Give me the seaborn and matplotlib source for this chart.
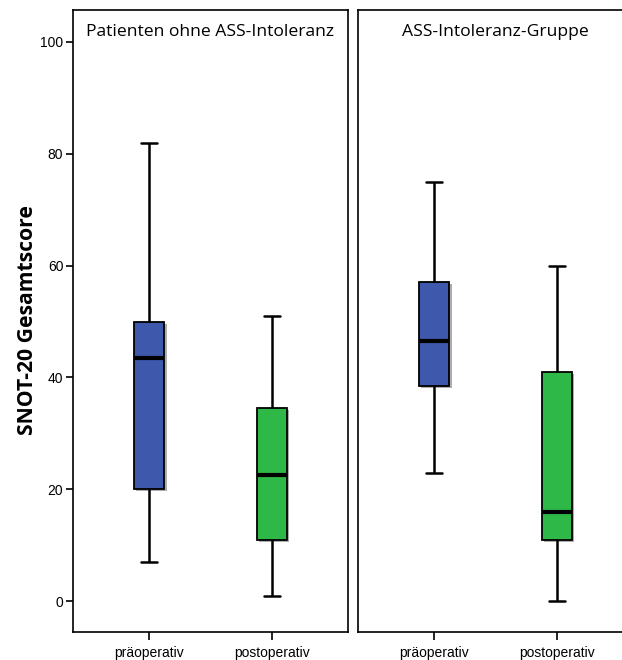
import matplotlib
matplotlib.use("Agg")
import matplotlib.pyplot as plt
import matplotlib.patheffects as pe
import seaborn as sns
import pandas as pd

# Fünf-Punkte-Zusammenfassung je Gruppe: Minimum, Q1, Median, Q3, Maximum
zeitpunkte = ["präoperativ", "postoperativ"]
gruppen = ["Patienten ohne ASS-Intoleranz", "ASS-Intoleranz-Gruppe"]

ohne_prae = [7, 20, 43.5, 50, 82]
ohne_post = [1, 11, 22.5, 34.5, 51]
ass_prae = [23, 38.5, 46.5, 57, 75]
ass_post = [0, 11, 16, 41, 60]

farben = ["#3E58AC", "#2EB848"]
yticks = [0, 20, 40, 60, 80, 100]

rows = []
for gruppe, werte in zip(gruppen, [(ohne_prae, ohne_post), (ass_prae, ass_post)]):
    for zeit, w in zip(zeitpunkte, werte):
        for v in w:
            rows.append({"Gruppe": gruppe, "Zeitpunkt": zeit, "Score": v})
df = pd.DataFrame(rows)

sns.set_style("ticks")
plt.rcParams["font.family"] = ["Liberation Sans", "DejaVu Sans"]
plt.rcParams["text.color"] = "black"
plt.rcParams["xtick.color"] = "black"
plt.rcParams["ytick.color"] = "black"

fig = plt.figure(figsize=(6.22, 6.60), dpi=100)
ax1 = fig.add_axes([73 / 622, 1 - 632 / 660, 275 / 622, 622 / 660])
ax2 = fig.add_axes([358 / 622, 1 - 632 / 660, 275 / 622, 622 / 660])

schatten = [pe.SimplePatchShadow(offset=(1.5, -1.5), shadow_rgbFace="#999999", alpha=0.8), pe.Normal()]

for ax, gruppe in zip([ax1, ax2], gruppen):
    sub = df[df["Gruppe"] == gruppe]
    sns.boxplot(data=sub, x="Zeitpunkt", y="Score", hue="Zeitpunkt",
                order=zeitpunkte, hue_order=zeitpunkte, palette=farben,
                saturation=1, whis=(0, 100), width=0.25, legend=False, ax=ax,
                boxprops=dict(edgecolor="black", linewidth=1.3),
                whiskerprops=dict(color="black", linewidth=1.8),
                capprops=dict(color="black", linewidth=1.8),
                medianprops=dict(color="black", linewidth=3))
    for p in ax.patches:
        p.set_alpha(1)
        p.set_path_effects(schatten)
    ax.set_xlim(-0.62, 1.62)
    ax.set_ylim(-5.5, 105.7)
    ax.set_xlabel("")
    ax.set_ylabel("")
    for s in ax.spines.values():
        s.set_visible(True)
        s.set_linewidth(1.2)
        s.set_color("black")
    ax.tick_params(axis="x", length=6, width=1.2, labelsize=10, pad=4)
    ax.text(0.5, 0.965, gruppe, transform=ax.transAxes, ha="center", va="center",
            fontsize=12.6, family=["Open Sans", "DejaVu Sans"])

ax1.set_yticks(yticks)
ax1.tick_params(axis="y", length=5, width=1.2, labelsize=10, pad=2)
ax2.set_yticks([])

fig.text(28 / 622, 1 - 320 / 660, "SNOT-20 Gesamtscore", rotation=90, ha="center", va="center",
         fontsize=15.2, fontweight="bold", family=["Open Sans", "DejaVu Sans"])

fig.savefig("out.png", dpi=100)
